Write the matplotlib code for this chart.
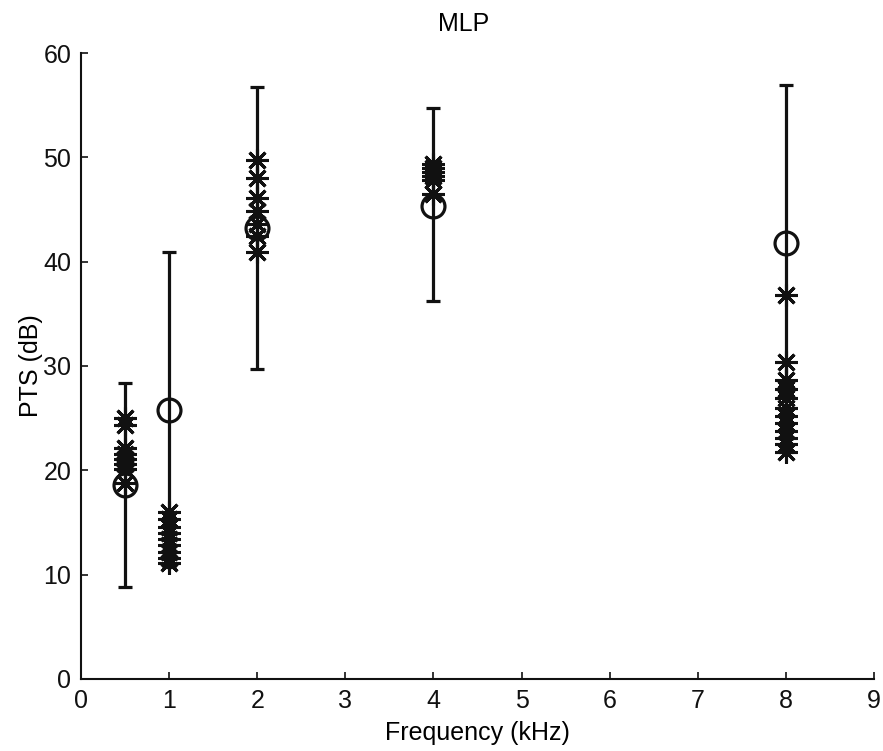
import matplotlib
matplotlib.use("Agg")
import matplotlib.pyplot as plt

plt.rcParams['font.family'] = ['Liberation Sans', 'DejaVu Sans']

# frequencies (kHz)
freqs = [0.5, 1, 2, 4, 8]

# error bar ranges (dB)
bar_low = [8.8, 10.7, 29.7, 36.2, 21.8]
bar_high = [28.4, 40.9, 56.7, 54.7, 56.9]

# circle values (dB)
circles = [18.6, 25.8, 43.2, 45.3, 41.8]

# star values per frequency (dB)
stars_05 = [25.0, 24.3, 22.1, 21.6, 21.1, 20.6, 20.1, 18.8]
stars_1 = [16.0, 15.3, 14.6, 14.0, 13.4, 12.8, 12.2, 11.6, 11.1]
stars_2 = [49.7, 48.0, 46.1, 44.9, 43.6, 42.5, 40.9]
stars_4 = [49.4, 49.0, 48.6, 48.2, 47.8, 46.5]
stars_8 = [36.8, 30.4, 28.7, 27.8, 26.9, 26.0, 25.2, 24.5, 23.8, 23.1, 22.5, 21.8]
stars = [stars_05, stars_1, stars_2, stars_4, stars_8]

fig = plt.figure(figsize=(8.83, 7.51), dpi=100)
ax = fig.add_axes([0.0917, 0.0959, 0.8981, 0.8335])

mid = [(lo + hi) / 2 for lo, hi in zip(bar_low, bar_high)]
half = [(hi - lo) / 2 for lo, hi in zip(bar_low, bar_high)]
ax.errorbar(freqs, mid, yerr=half, fmt='none', ecolor='#111111',
            elinewidth=2.3, capsize=5, capthick=2.3, zorder=2)

for f, vals in zip(freqs, stars):
    ax.plot([f] * len(vals), vals, linestyle='none', marker=(8, 2, 0),
            markersize=16, markeredgewidth=2.2, color='#111111', zorder=3)

ax.plot(freqs, circles, linestyle='none', marker='o', markersize=16.5,
        markerfacecolor='none', markeredgewidth=2.3, markeredgecolor='#111111',
        zorder=4)

ax.set_xlim(0, 9)
ax.set_ylim(0, 60)
ax.set_xticks(range(0, 10))
ax.set_yticks(range(0, 61, 10))
ax.spines['top'].set_visible(False)
ax.spines['right'].set_visible(False)
for s in ['left', 'bottom']:
    ax.spines[s].set_linewidth(1.5)
    ax.spines[s].set_color('#111111')
ax.tick_params(direction='in', length=5, width=1.2, labelsize=18,
               colors='#111111', pad=7)

ax.set_xlabel('Frequency (kHz)', fontsize=18, labelpad=6)
ax.set_ylabel('PTS (dB)', fontsize=18, labelpad=0)
ax.set_title('MLP', fontsize=18, x=0.482, pad=16)

fig.savefig('out.png', dpi=100)
